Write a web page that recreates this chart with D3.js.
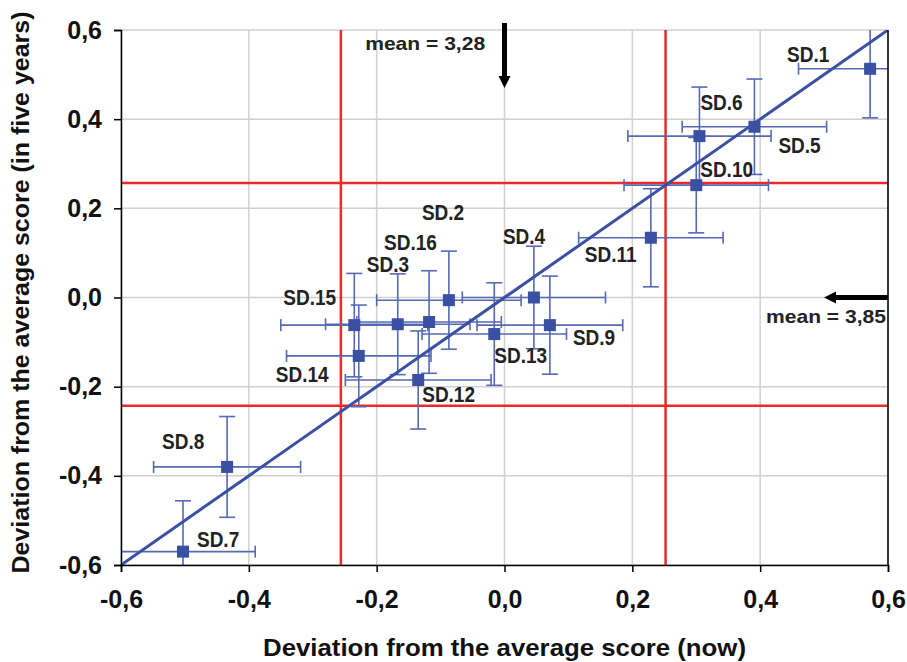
<!DOCTYPE html>
<html>
<head>
<meta charset="utf-8">
<script src="https://cdn.jsdelivr.net/npm/d3@7"></script>
<style>
  body { margin: 0; background: #fff; }
  text { font-family: "Liberation Sans", Arial, sans-serif; font-weight: bold; }
</style>
</head>
<body>
<div id="chart"></div>
<script>
// Data
var labels = ["SD.1","SD.2","SD.3","SD.4","SD.5","SD.6","SD.7","SD.8","SD.9","SD.10","SD.11","SD.12","SD.13","SD.14","SD.15","SD.16"];
var nowDev = [0.572,-0.087,-0.167,0.046,0.391,0.305,-0.503,-0.434,0.071,0.300,0.229,-0.135,-0.016,-0.228,-0.235,-0.118];
var futureDev = [0.513,-0.006,-0.060,0.000,0.383,0.362,-0.570,-0.380,-0.062,0.252,0.134,-0.185,-0.082,-0.131,-0.062,-0.055];
var nowErr = [0.112,0.113,0.113,0.112,0.113,0.112,0.113,0.115,0.114,0.113,0.113,0.114,0.113,0.113,0.115,0.113];
var futureErr = [0.110,0.110,0.113,0.115,0.107,0.110,0.114,0.113,0.110,0.107,0.110,0.110,0.115,0.114,0.116,0.115];
var tickValues = [-0.6,-0.4,-0.2,0.0,0.2,0.4,0.6];
var meanLinesX = [-0.256, 0.252];
var meanLinesY = [0.257, -0.243];
var meanNow = "mean = 3,28";
var meanFuture = "mean = 3,85";

// label placement relative to each point (px)
var labelOffsets = [[-83,-7],[-27,-80],[-31,-52],[-31,-54],[24,26],[1,-26],[14,-5],[-65,-18],[23,20],[4,-8],[-66,24],[4,22],[0,29],[-83,26],[-71,-20],[-45,-72]];

var data = labels.map(function(d, i) {
  return { name: d, x: nowDev[i], y: futureDev[i], ex: nowErr[i], ey: futureErr[i], off: labelOffsets[i] };
});

var margin = { top: 30, right: 19, bottom: 97, left: 121 },
    width = 907 - margin.left - margin.right,
    height = 662 - margin.top - margin.bottom;

var svg = d3.select("#chart").append("svg")
    .attr("width", 907)
    .attr("height", 662)
  .append("g")
    .attr("transform", "translate(" + margin.left + "," + margin.top + ")");

var x = d3.scaleLinear().domain([-0.6, 0.6]).range([0, width]);
var y = d3.scaleLinear().domain([-0.6, 0.6]).range([height, 0]);
var fmt = function(d) { return d3.format(".1f")(d).replace(".", ",").replace("−", "-"); };

svg.append("defs").append("clipPath").attr("id", "clip")
  .append("rect").attr("width", width).attr("height", height);

// grid
svg.append("g").selectAll("line.gx").data(tickValues).enter().append("line")
    .attr("x1", d => x(d)).attr("x2", d => x(d)).attr("y1", 0).attr("y2", height)
    .style("stroke", "#d0d0d0").style("stroke-width", 1.5);
svg.append("g").selectAll("line.gy").data(tickValues).enter().append("line")
    .attr("y1", d => y(d)).attr("y2", d => y(d)).attr("x1", 0).attr("x2", width)
    .style("stroke", "#d0d0d0").style("stroke-width", 1.5);

// red mean lines
svg.selectAll("line.mx").data(meanLinesX).enter().append("line")
    .attr("x1", d => x(d)).attr("x2", d => x(d)).attr("y1", 0).attr("y2", height)
    .style("stroke", "#f0282a").style("stroke-width", 2.5);
svg.selectAll("line.my").data(meanLinesY).enter().append("line")
    .attr("y1", d => y(d)).attr("y2", d => y(d)).attr("x1", 0).attr("x2", width)
    .style("stroke", "#f0282a").style("stroke-width", 2.5);

var plot = svg.append("g").attr("clip-path", "url(#clip)");

// error bars
var blueLight = "#5569b4", blue = "#3a50a2";
var eb = plot.selectAll("g.eb").data(data).enter().append("g").attr("class", "eb")
    .style("stroke", blueLight).style("stroke-width", 1.6);
eb.append("line").attr("x1", d => x(d.x - d.ex)).attr("x2", d => x(d.x + d.ex))
    .attr("y1", d => y(d.y)).attr("y2", d => y(d.y));
eb.append("line").attr("x1", d => x(d.x)).attr("x2", d => x(d.x))
    .attr("y1", d => y(d.y - d.ey)).attr("y2", d => y(d.y + d.ey));
[-1, 1].forEach(function(s) {
  eb.append("line").attr("x1", d => x(d.x + s * d.ex)).attr("x2", d => x(d.x + s * d.ex))
      .attr("y1", d => y(d.y) - 6).attr("y2", d => y(d.y) + 6);
  eb.append("line").attr("x1", d => x(d.x) - 8).attr("x2", d => x(d.x) + 8)
      .attr("y1", d => y(d.y + s * d.ey)).attr("y2", d => y(d.y + s * d.ey));
});

// diagonal
plot.append("line")
    .attr("x1", x(-0.6)).attr("y1", y(-0.6)).attr("x2", x(0.6)).attr("y2", y(0.6))
    .style("stroke", blue).style("stroke-width", 3);

// markers
plot.selectAll("rect.pt").data(data).enter().append("rect")
    .attr("x", d => x(d.x) - 6).attr("y", d => y(d.y) - 6)
    .attr("width", 12).attr("height", 12)
    .style("fill", blue);

// labels
svg.selectAll("text.lbl").data(data).enter().append("text")
    .attr("transform", d => "translate(" + (x(d.x) + d.off[0]) + "," + (y(d.y) + d.off[1]) + ") scale(1,1.12)")
    .style("font-size", "19px").style("fill", "#222")
    .text(d => d.name);

// frame
svg.append("line").attr("x1", width).attr("x2", width).attr("y1", 0).attr("y2", height)
    .style("stroke", "#000").style("stroke-width", 1.5);

// axes
var xAxis = svg.append("g").attr("transform", "translate(0," + height + ")")
    .call(d3.axisBottom(x).tickValues(tickValues).tickFormat(fmt).tickSize(7).tickPadding(18));
var yAxis = svg.append("g")
    .call(d3.axisLeft(y).tickValues(tickValues).tickFormat(fmt).tickSize(7).tickPadding(12));
[xAxis, yAxis].forEach(function(a) {
  a.select(".domain").style("stroke", "#000").style("stroke-width", 1.5);
  a.selectAll(".tick line").style("stroke", "#000").style("stroke-width", 1.5);
  a.selectAll("text").style("font-size", "25px").style("font-family", "Liberation Sans, Arial, sans-serif").style("fill", "#111");
});

// arrows
var defs = svg.select("defs");
defs.append("marker").attr("id", "arr").attr("viewBox", "0 0 10 10")
    .attr("refX", 5).attr("refY", 5).attr("markerWidth", 2.4).attr("markerHeight", 3.4)
    .attr("orient", "auto").attr("markerUnits", "strokeWidth")
  .append("path").attr("d", "M0,0 L10,5 L0,10 Z").style("fill", "#000");
svg.append("line")
    .attr("x1", x(0)).attr("x2", x(0)).attr("y1", -7).attr("y2", 52)
    .style("stroke", "#000").style("stroke-width", 5).attr("marker-end", "url(#arr)");
svg.append("line")
    .attr("x1", width).attr("x2", x(0.5) + 6).attr("y1", y(0)).attr("y2", y(0))
    .style("stroke", "#000").style("stroke-width", 5).attr("marker-end", "url(#arr)");

svg.append("text").attr("x", x(-0.218)).attr("y", 20)
    .attr("textLength", 120).attr("lengthAdjust", "spacingAndGlyphs")
    .style("font-size", "19px").style("fill", "#222").text(meanNow);
svg.append("text").attr("x", width - 122).attr("y", y(0) + 25)
    .attr("textLength", 120).attr("lengthAdjust", "spacingAndGlyphs")
    .style("font-size", "19px").style("fill", "#222").text(meanFuture);

// axis titles
svg.append("text").attr("x", width / 2).attr("y", height + 91).attr("text-anchor", "middle")
    .attr("textLength", 483).attr("lengthAdjust", "spacingAndGlyphs")
    .style("font-size", "24px").style("fill", "#111")
    .text("Deviation from the average score (now)");
svg.append("text").attr("transform", "translate(" + (-92) + "," + (height / 2 - 5) + ") rotate(-90)")
    .attr("text-anchor", "middle")
    .attr("textLength", 562).attr("lengthAdjust", "spacingAndGlyphs")
    .style("font-size", "24px").style("fill", "#111")
    .text("Deviation from the average score (in five years)");
</script>
</body>
</html>
